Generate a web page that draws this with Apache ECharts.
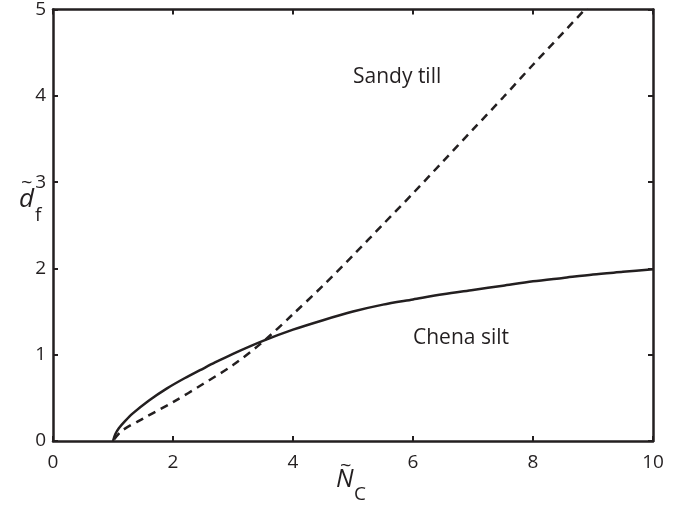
<!DOCTYPE html>
<html>
<head>
<meta charset="utf-8">
<script src="https://cdn.jsdelivr.net/npm/echarts@6/dist/echarts.min.js"></script>
<style>html,body{margin:0;padding:0;background:#fff}#c{width:686px;height:506px}</style>
</head>
<body>
<div id="c"></div>
<script>
// Chena silt (solid)
const chenaX = [1.0, 1.04, 1.1, 1.2, 1.33, 1.6, 1.9, 2.2, 2.45, 2.7, 3.0, 3.5, 4.0, 4.5, 5.0, 5.5, 6.0, 6.5, 7.0, 7.5, 8.0, 8.5, 9.0, 9.5, 10.0];
const chenaY = [0.0, 0.08, 0.15, 0.23, 0.32, 0.47, 0.61, 0.73, 0.82, 0.91, 1.01, 1.16, 1.29, 1.40, 1.50, 1.58, 1.64, 1.70, 1.75, 1.80, 1.85, 1.89, 1.93, 1.96, 1.99];
// Sandy till (dashed)
const sandyX = [1.02, 1.15, 1.5, 2.0, 2.5, 3.0, 3.5, 4.0, 4.5, 5.0, 5.5, 6.0, 6.5, 7.0, 7.5, 8.0, 8.5, 9.0];
const sandyY = [0.02, 0.12, 0.26, 0.45, 0.66, 0.88, 1.15, 1.47, 1.80, 2.15, 2.51, 2.87, 3.24, 3.61, 3.98, 4.36, 4.73, 5.10];
const xTicks = [0, 2, 4, 6, 8, 10];
const yTicks = [0, 1, 2, 3, 4, 5];
const labels = ["Sandy till", "Chena silt"];

const FONT = "'Open Sans', 'DejaVu Sans', sans-serif";
const chart = echarts.init(document.getElementById('c'), null, {renderer: 'canvas'});
const axisCommon = {
  axisLine: {show: true, onZero: false, lineStyle: {color: '#231f20', width: 2.5}},
  axisTick: {show: true, inside: true, length: 5, lineStyle: {color: '#231f20', width: 2}},
  splitLine: {show: false}
};
chart.setOption({
  animation: false,
  grid: {left: 53, right: 33, top: 6, bottom: 65, containLabel: false},
  xAxis: [
    Object.assign({type: 'value', min: 0, max: 10, interval: 2, position: 'bottom',
      axisLabel: {color: '#231f20', fontSize: 19, fontFamily: FONT, margin: 12,
        formatter: v => xTicks.includes(v) ? String(v) : ''}}, axisCommon),
    Object.assign({type: 'value', min: 0, max: 10, interval: 2, position: 'top',
      axisLabel: {show: false}}, axisCommon)
  ],
  yAxis: [
    Object.assign({type: 'value', min: 0, max: 5, interval: 1, position: 'left',
      axisLabel: {color: '#231f20', fontSize: 19, fontFamily: FONT, margin: 7,
        formatter: v => yTicks.includes(v) ? String(v) : ''}}, axisCommon),
    Object.assign({type: 'value', min: 0, max: 5, interval: 1, position: 'right',
      axisLabel: {show: false}}, axisCommon)
  ],
  series: [
    {type: 'line', name: 'Chena silt', data: chenaX.map((x, i) => [x, chenaY[i]]),
      smooth: 0.3, showSymbol: false, clip: true,
      lineStyle: {color: '#231f20', width: 2.5}},
    {type: 'line', name: 'Sandy till', data: sandyX.map((x, i) => [x, sandyY[i]]),
      smooth: 0.3, showSymbol: false, clip: true,
      lineStyle: {color: '#231f20', width: 2.5, type: [8, 6]}}
  ],
  graphic: [
    {type: 'text', left: 353, top: 67, style: {text: labels[0], fontSize: 21, fontFamily: FONT, fill: '#231f20'}},
    {type: 'text', left: 413, top: 328, style: {text: labels[1], fontSize: 21, fontFamily: FONT, fill: '#231f20'}},
    // y axis title: d~ with subscript f
    {type: 'text', left: 19, top: 187, style: {text: 'd', fontSize: 26, fontStyle: 'italic', fontFamily: FONT, fill: '#231f20'}},
    {type: 'text', left: 21, top: 173, style: {text: '~', fontSize: 20, fontFamily: FONT, fill: '#231f20'}},
    {type: 'text', left: 35, top: 206, style: {text: 'f', fontSize: 19, fontFamily: FONT, fill: '#231f20'}},
    // x axis title: N~ with subscript C
    {type: 'text', left: 336, top: 467, style: {text: 'N', fontSize: 25, fontStyle: 'italic', fontFamily: FONT, fill: '#231f20'}},
    {type: 'text', left: 340, top: 456, style: {text: '~', fontSize: 20, fontFamily: FONT, fill: '#231f20'}},
    {type: 'text', left: 354, top: 485, style: {text: 'C', fontSize: 19, fontFamily: FONT, fill: '#231f20'}}
  ]
});
</script>
</body>
</html>
